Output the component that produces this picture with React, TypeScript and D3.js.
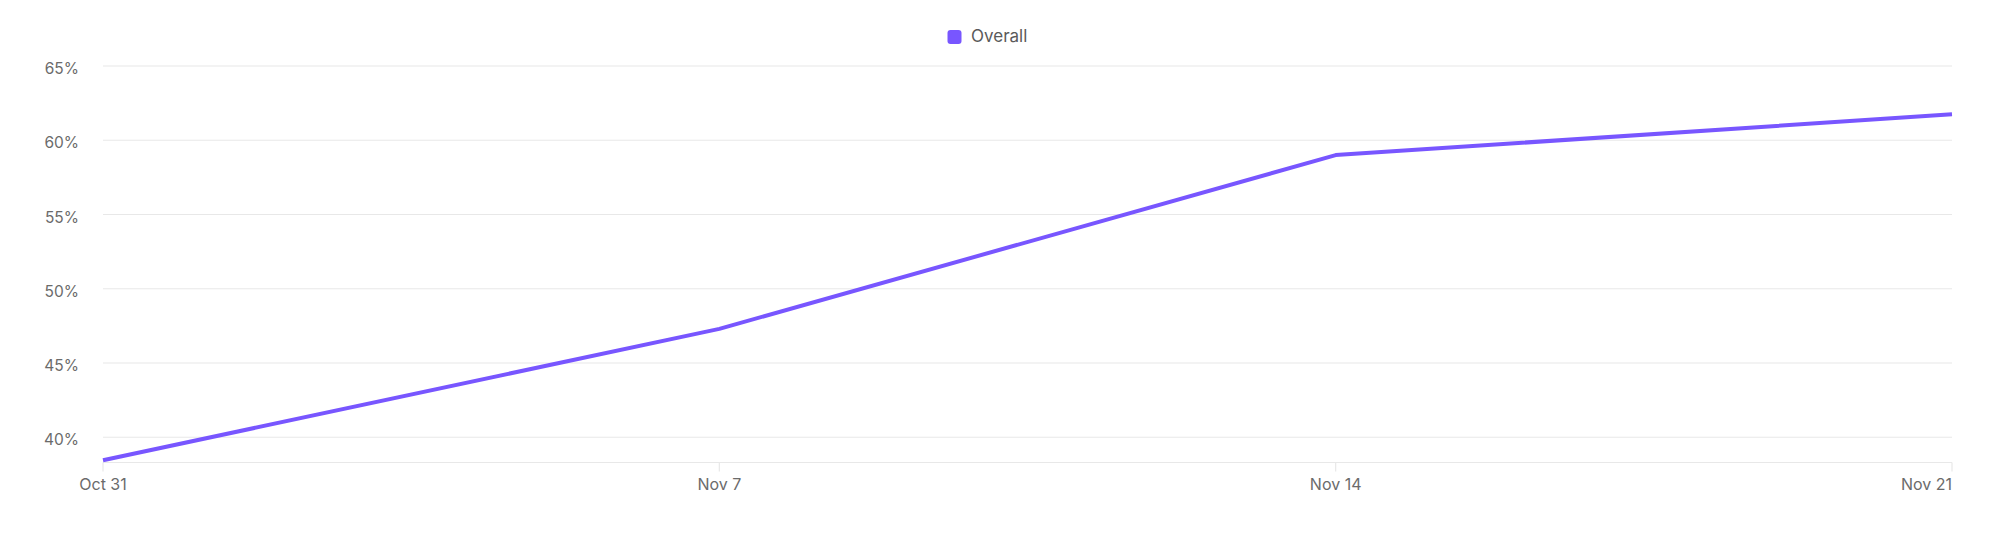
import React from "react";
import * as d3 from "d3";

const categories: string[] = ["Oct 31", "Nov 7", "Nov 14", "Nov 21"];
const overall: number[] = [38.45, 47.3, 59.0, 61.75];
const yTicks: number[] = [40, 45, 50, 55, 60, 65];
const seriesName = "Overall";

const W = 2000;
const H = 535;
const margin = { left: 103, right: 48, top: 66, bottom: 72.5 };
const FONT = "Inter, 'Noto Sans', sans-serif";
const PURPLE = "#7856FF";
const GRID = "#e8e8e8";
const TEXT = "#6b6b6b";

export default function App() {
  const x = d3
    .scalePoint<string>()
    .domain(categories)
    .range([margin.left, W - margin.right]);
  const y = d3
    .scaleLinear()
    .domain([38.3, 65])
    .range([H - margin.bottom, margin.top]);

  const line = d3
    .line<number>()
    .x((_, i) => x(categories[i]) as number)
    .y((d) => y(d));

  const bottom = H - margin.bottom;

  return (
    <svg
      width={W}
      height={H}
      style={{ position: "absolute", left: 0, top: 0, display: "block", background: "#fff" }}
      fontFamily={FONT}
    >
      {/* legend */}
      <rect x={947.5} y={30} width={14} height={14} rx={3} fill={PURPLE} />
      <text x={971} y={37.5} fontSize={17} fill="#5a5a5a" dominantBaseline="middle">
        {seriesName}
      </text>

      {/* grid + y labels */}
      {yTicks.map((t) => (
        <g key={t}>
          <line
            x1={margin.left}
            x2={W - margin.right}
            y1={y(t)}
            y2={y(t)}
            stroke={GRID}
            strokeWidth={1.2}
          />
          <text
            x={79}
            y={y(t) + 4}
            textAnchor="end"
            dominantBaseline="middle"
            fontSize={15.5}
            fill={TEXT}
          >
            {`${t}%`}
          </text>
        </g>
      ))}

      {/* x axis */}
      <line
        x1={margin.left}
        x2={W - margin.right}
        y1={bottom}
        y2={bottom}
        stroke={GRID}
        strokeWidth={1.2}
      />
      {categories.map((c, i) => (
        <g key={c}>
          <line
            x1={x(c)}
            x2={x(c)}
            y1={bottom}
            y2={bottom + 9}
            stroke={GRID}
            strokeWidth={1.2}
          />
          <text
            x={x(c)}
            y={486}
            textAnchor={i === categories.length - 1 ? "end" : "middle"}
            dominantBaseline="middle"
            fontSize={16}
            fill={TEXT}
          >
            {c}
          </text>
        </g>
      ))}

      {/* series line */}
      <path
        d={line(overall) || ""}
        fill="none"
        stroke={PURPLE}
        strokeWidth={4}
        strokeLinejoin="round"
      />
    </svg>
  );
}
